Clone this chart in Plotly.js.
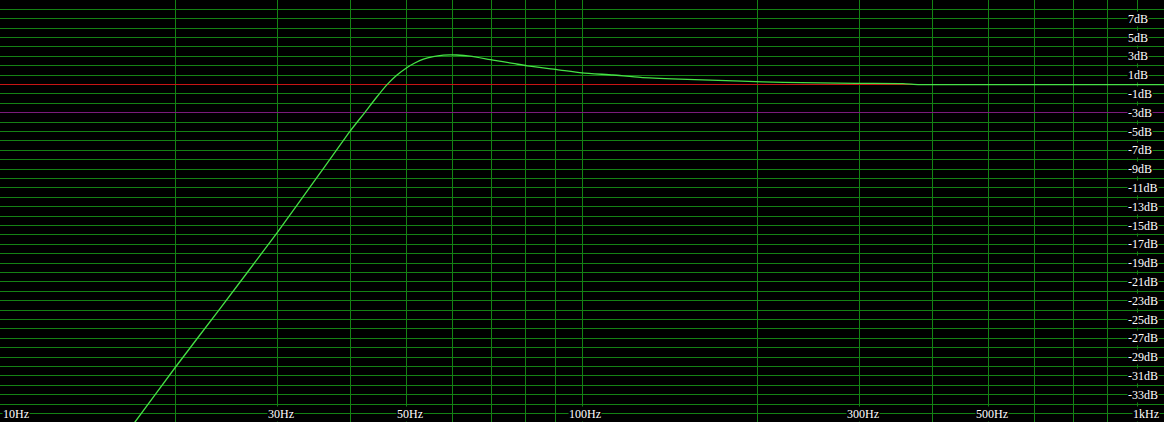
<!DOCTYPE html>
<html>
<head>
<meta charset="utf-8">
<script src="https://cdn.plot.ly/plotly-3.0.1.min.js"></script>
<style>html,body{margin:0;padding:0;background:#000;}#chart{width:1164px;height:422px;}</style>
</head>
<body>
<div id="chart"></div>
<script>
// Frequency response (Hz, dB)
const freqHz = [16, 17.06, 20, 23.9, 29.9, 35.5, 39.9, 42.3, 44.3, 46.2, 48.1, 50, 51.6, 53.4, 55.5, 57.8, 59.3, 60.9, 64.2, 70.3, 76.1, 80.5, 90.6, 100, 113, 126, 147, 188, 222, 295, 356, 380, 500, 1000];
const levelDb = [-38.1, -35.9, -30.1, -23.8, -15.8, -9.4, -5.0, -3.0, -1.4, -0.03, 1.02, 1.8, 2.3, 2.72, 2.98, 3.13, 3.17, 3.15, 3.02, 2.6, 2.26, 2.0, 1.6, 1.25, 1.02, 0.77, 0.59, 0.37, 0.23, 0.13, 0.1, 0.0, 0.0, 0.0];

// Reference levels
const refLevelDb = 0;      // red line
const cutoffLevelDb = -3;  // purple line

// Grid values
const xGridHz = [10,20,30,40,50,60,70,80,90,100,200,300,400,500,600,700,800,900,1000];
const xLabelHz = [10, 30, 50, 100, 300, 500, 1000];
const xLabelText = ['10Hz','30Hz','50Hz','100Hz','300Hz','500Hz','1kHz'];
const yLabelDb = [7,5,3,1,-1,-3,-5,-7,-9,-11,-13,-15,-17,-19,-21,-23,-25,-27,-29,-31,-33];
const yLabelText = yLabelDb.map(v => v + 'dB');
const xLabelRowDb = -35;

const gridColor = 'rgb(20,130,20)';
const labelFont = {family: 'Liberation Serif, Times New Roman, serif', size: 12, color: '#ffffff'};

const traces = [
  {x: [10, 1000], y: [refLevelDb, refLevelDb], mode: 'lines', line: {color: 'rgb(200,20,20)', width: 1}, hoverinfo: 'skip'},
  {x: [10, 1000], y: [cutoffLevelDb, cutoffLevelDb], mode: 'lines', line: {color: 'rgb(125,25,125)', width: 1}, hoverinfo: 'skip'},
  {x: freqHz, y: levelDb, mode: 'lines', line: {color: 'rgb(70,225,70)', width: 1.3, shape: 'spline', smoothing: 0.6}, hoverinfo: 'skip'}
];

const annotations = [];
yLabelDb.forEach((v, i) => {
  annotations.push({xref: 'paper', yref: 'y', x: 0.9682, y: v, text: yLabelText[i], showarrow: false,
    xanchor: 'left', yanchor: 'middle', font: labelFont, bgcolor: '#000000', borderpad: 0});
});
xLabelHz.forEach((f, i) => {
  const first = i === 0, last = i === xLabelHz.length - 1;
  annotations.push({xref: 'x', yref: 'y', x: Math.log10(f), y: xLabelRowDb, text: xLabelText[i], showarrow: false,
    xanchor: first ? 'left' : (last ? 'right' : 'center'), xshift: first ? 2 : (last ? -4 : 3),
    yanchor: 'middle', font: labelFont, bgcolor: '#000000', borderpad: 0});
});

const layout = {
  width: 1164, height: 422,
  margin: {l: 0, r: 0, t: 0, b: 0, pad: 0},
  paper_bgcolor: '#000000', plot_bgcolor: '#000000',
  showlegend: false,
  xaxis: {type: 'log', range: [1, 3], tickvals: xGridHz, showticklabels: false, ticks: '',
    showgrid: true, gridcolor: gridColor, gridwidth: 1, zeroline: false, showline: false, fixedrange: true},
  yaxis: {range: [-35.9, 9], tick0: 0, dtick: 1, showticklabels: false, ticks: '',
    showgrid: true, gridcolor: gridColor, gridwidth: 1, zeroline: false, showline: false, fixedrange: true},
  annotations: annotations
};

Plotly.newPlot('chart', traces, layout, {staticPlot: true, displayModeBar: false}).then(function (gd) {
  // draw the two flat reference lines pixel-crisp so they sit exactly on their grid rows
  const groups = gd.querySelectorAll('.scatterlayer .trace');
  for (let i = 0; i < 2 && i < groups.length; i++) {
    groups[i].querySelectorAll('path').forEach(p => p.style.shapeRendering = 'crispEdges');
  }
});
</script>
</body>
</html>
